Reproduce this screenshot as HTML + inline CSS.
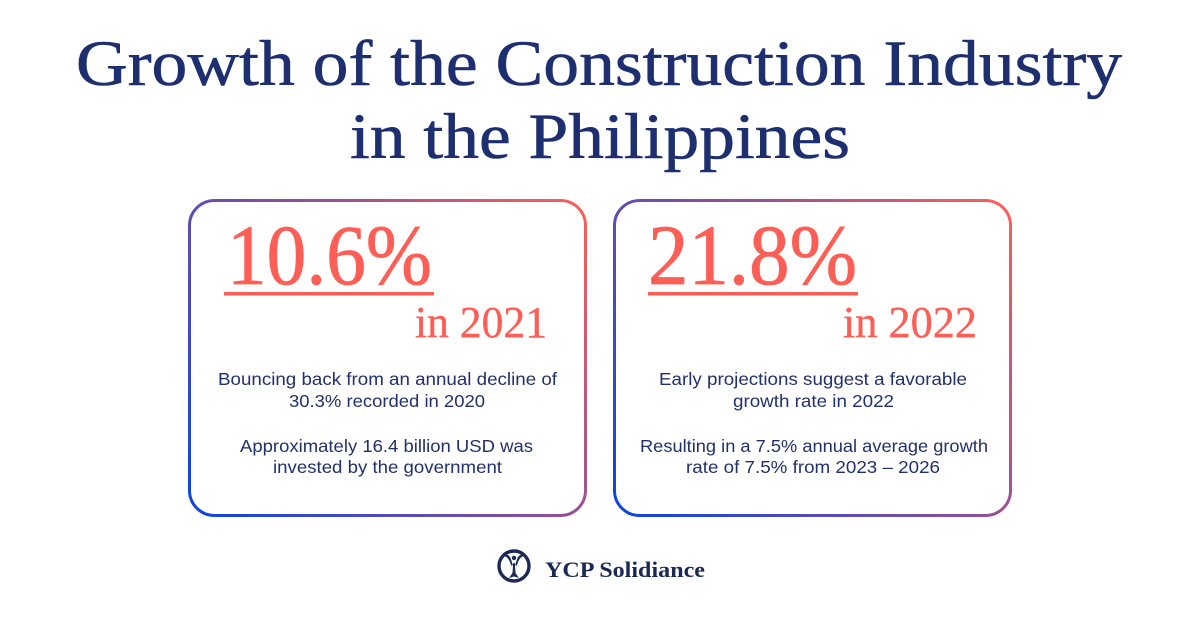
<!DOCTYPE html>
<html>
<head>
<meta charset="utf-8">
<style>
  html,body{margin:0;padding:0;background:#ffffff;}
  body{width:1200px;height:627px;overflow:hidden;}
  svg{display:block;}
  .title{font-family:"Liberation Serif",serif;font-size:65px;fill:#1d2f6f;stroke:#1d2f6f;stroke-width:0.6px;}
  .big{font-family:"Liberation Serif",serif;font-size:86px;fill:#fd5f57;stroke:#fd5f57;stroke-width:0.8px;}
  .yr{font-family:"Liberation Serif",serif;font-size:44px;fill:#fd5f57;stroke:#fd5f57;stroke-width:0.4px;}
  .body{font-family:"Liberation Sans",sans-serif;font-size:17.5px;fill:#22306b;}
  .logo{font-family:"Liberation Serif",serif;font-size:22px;font-weight:bold;fill:#1b2a55;}
</style>
</head>
<body>
<svg width="1200" height="627" viewBox="0 0 1200 627" xmlns="http://www.w3.org/2000/svg">
  <defs>
    <linearGradient id="g1" gradientUnits="userSpaceOnUse" x1="189" y1="516" x2="586" y2="200">
      <stop offset="0" stop-color="#0a45e0"/>
      <stop offset="0.5" stop-color="#7e4fa4"/>
      <stop offset="1" stop-color="#ff5f57"/>
    </linearGradient>
    <linearGradient id="g2" gradientUnits="userSpaceOnUse" x1="614" y1="516" x2="1011" y2="200">
      <stop offset="0" stop-color="#0a45e0"/>
      <stop offset="0.5" stop-color="#7e4fa4"/>
      <stop offset="1" stop-color="#ff5f57"/>
    </linearGradient>
  </defs>

  <!-- Title -->
  <text class="title" x="76" y="85" textLength="1046" lengthAdjust="spacingAndGlyphs">Growth of the Construction Industry</text>
  <text class="title" x="350" y="158" textLength="500" lengthAdjust="spacingAndGlyphs">in the Philippines</text>

  <!-- Cards -->
  <rect x="189.5" y="200.5" width="396" height="315" rx="25" ry="25" fill="#fff" stroke="url(#g1)" stroke-width="3"/>
  <rect x="614.5" y="200.5" width="396" height="315" rx="25" ry="25" fill="#fff" stroke="url(#g2)" stroke-width="3"/>

  <!-- Left card -->
  <text class="big" x="227" y="284" textLength="205" lengthAdjust="spacingAndGlyphs">10.6%</text>
  <rect x="224" y="292" width="210" height="3.5" fill="#fd5f57"/>
  <text class="yr" x="415" y="337" textLength="132" lengthAdjust="spacingAndGlyphs">in 2021</text>
  <text class="body" x="218" y="385" textLength="339" lengthAdjust="spacingAndGlyphs">Bouncing back from an annual  decline of</text>
  <text class="body" x="289" y="407" textLength="196" lengthAdjust="spacingAndGlyphs">30.3% recorded in 2020</text>
  <text class="body" x="240" y="452" textLength="293" lengthAdjust="spacingAndGlyphs">Approximately 16.4 billion USD was</text>
  <text class="body" x="273" y="473" textLength="229" lengthAdjust="spacingAndGlyphs">invested by the government</text>

  <!-- Right card -->
  <text class="big" x="648" y="284" textLength="209" lengthAdjust="spacingAndGlyphs">21.8%</text>
  <rect x="648" y="292" width="210" height="3.5" fill="#fd5f57"/>
  <text class="yr" x="843" y="337" textLength="134" lengthAdjust="spacingAndGlyphs">in 2022</text>
  <text class="body" x="659" y="385" textLength="308" lengthAdjust="spacingAndGlyphs">Early projections suggest a favorable</text>
  <text class="body" x="733" y="407" textLength="161" lengthAdjust="spacingAndGlyphs">growth rate in 2022</text>
  <text class="body" x="640" y="452" textLength="348" lengthAdjust="spacingAndGlyphs">Resulting in a 7.5% annual  average growth</text>
  <text class="body" x="686" y="473" textLength="254" lengthAdjust="spacingAndGlyphs">rate of 7.5% from 2023 – 2026</text>

  <!-- Logo -->
  <circle cx="514" cy="566" r="15" fill="none" stroke="#1b2a55" stroke-width="3.4"/>
  <path d="M503 556 C505 554 508 554 510 557 C511 559 512 562 513 566 L512.5 573 L509 578 L514 576.5 L519 578 L515.5 573 L515 566 C516 562 517 559 518 557 C520 554 523 554 525 556 C522 556 520 558 518.5 561 L516.5 566 L514 562.5 L511.5 566 L509.5 561 C508 558 506 556 503 556 Z" fill="#1b2a55"/>
  <circle cx="514" cy="558" r="2.2" fill="#1b2a55"/>
  <text class="logo" x="545" y="577" textLength="160" lengthAdjust="spacingAndGlyphs">YCP Solidiance</text>
</svg>
</body>
</html>
